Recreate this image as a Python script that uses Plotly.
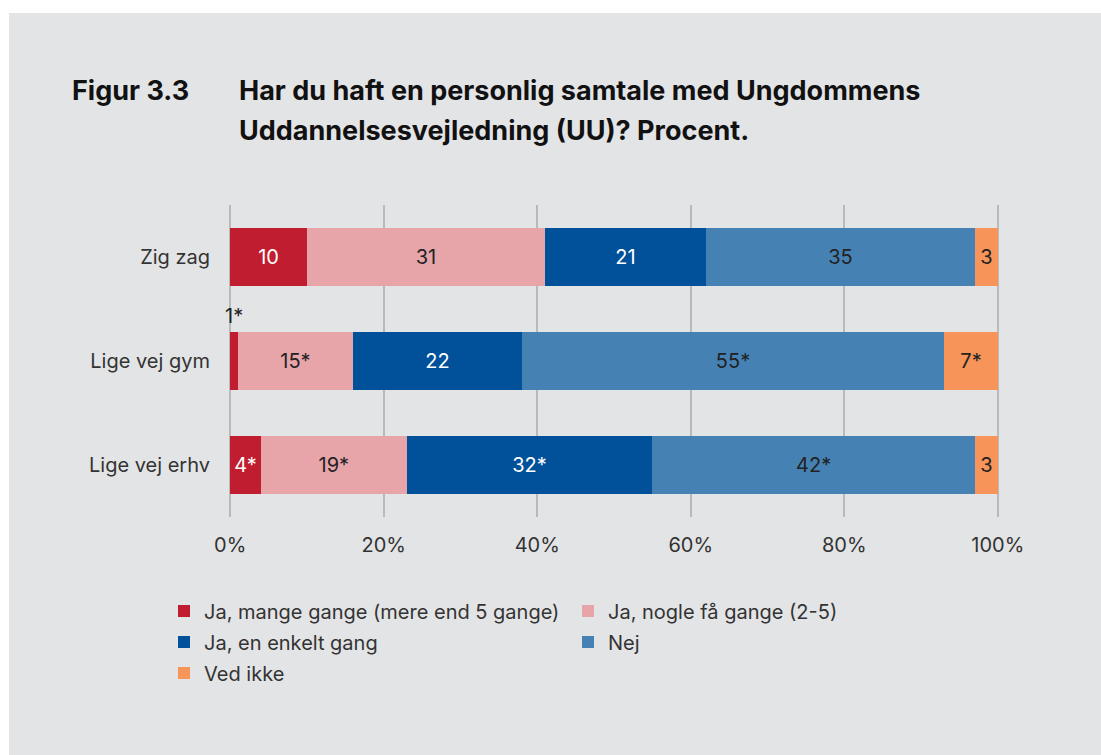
import plotly.graph_objects as go

categories = ["Zig zag", "Lige vej gym", "Lige vej erhv"]
series_names = [
    "Ja, mange gange (mere end 5 gange)",
    "Ja, nogle få gange (2-5)",
    "Ja, en enkelt gang",
    "Nej",
    "Ved ikke",
]
mange = [10, 1, 4]
nogle = [31, 15, 19]
enkelt = [21, 22, 32]
nej = [35, 55, 42]
ved_ikke = [3, 7, 3]

mange_lbl = ["10", "1*", "4*"]
nogle_lbl = ["31", "15*", "19*"]
enkelt_lbl = ["21", "22", "32*"]
nej_lbl = ["35", "55*", "42*"]
ved_ikke_lbl = ["3", "7*", "3"]

x_ticks = [0, 20, 40, 60, 80, 100]
x_tick_labels = ["0%", "20%", "40%", "60%", "80%", "100%"]

title_fig = "Figur 3.3"
title_line1 = "Har du haft en personlig samtale med Ungdommens"
title_line2 = "Uddannelsesvejledning (UU)? Procent."

colors = ["#c01e30", "#e7a5aa", "#00509a", "#4681b4", "#f69459"]
text_colors = ["#ffffff", "#222222", "#ffffff", "#222222", "#222222"]
legends = ["legend", "legend", "legend2", "legend2", "legend3"]

BG = "#e3e4e6"
FONT = "Inter"
FS = 20

values = [mange, nogle, enkelt, nej, ved_ikke]
labels = [mange_lbl, nogle_lbl, enkelt_lbl, nej_lbl, ved_ikke_lbl]

# plot-area geometry in pixels (page body margin removed via post_script)
W, H = 1101, 755
PW, PH = 770, 312
ML = 229
MT = 205
MR = W - ML - PW
MB = H - MT - PH


def px_x(px):
    return (px - ML) / PW


def px_y(py):
    return (MT + PH - py) / PH


fig = go.Figure()
for i, name in enumerate(series_names):
    tp = ["inside"] * len(categories)
    if i == 0:
        tp = ["inside", "none", "inside"]
    fig.add_trace(go.Bar(
        name=name,
        y=categories,
        x=values[i],
        orientation="h",
        marker=dict(color=colors[i], line=dict(width=0)),
        text=labels[i],
        textposition=tp,
        insidetextanchor="middle",
        textangle=0,
        textfont=dict(family=FONT, size=FS, color=text_colors[i]),
        constraintext="none",
        legend=legends[i],
        hoverinfo="name+x",
    ))

# small "1*" label placed above the thin first segment of "Lige vej gym"
fig.add_annotation(
    x=mange[1] / 2, y=categories[1], xref="x", yref="y",
    text=mange_lbl[1], showarrow=False, yshift=45,
    font=dict(family=FONT, size=FS, color="#222222"),
)

# title
TFS = 27
fig.add_annotation(x=px_x(70), y=px_y(90), xref="paper", yref="paper",
                   xanchor="left", yanchor="middle", showarrow=False,
                   text="<b>" + title_fig + "</b>",
                   font=dict(family=FONT, size=TFS, color="#111111"))
fig.add_annotation(x=px_x(237), y=px_y(90), xref="paper", yref="paper",
                   xanchor="left", yanchor="middle", showarrow=False,
                   text="<b>" + title_line1 + "</b>",
                   font=dict(family=FONT, size=TFS, color="#111111"))
fig.add_annotation(x=px_x(237), y=px_y(130), xref="paper", yref="paper",
                   xanchor="left", yanchor="middle", showarrow=False,
                   text="<b>" + title_line2 + "</b>",
                   font=dict(family=FONT, size=TFS, color="#111111"))

# white frame strips (top and left)
fig.add_shape(type="rect", xref="paper", yref="paper",
              x0=px_x(-20), x1=px_x(W + 20), y0=px_y(13), y1=px_y(-20),
              fillcolor="#ffffff", line=dict(width=0), layer="above")
fig.add_shape(type="rect", xref="paper", yref="paper",
              x0=px_x(-20), x1=px_x(9), y0=px_y(H + 20), y1=px_y(-20),
              fillcolor="#ffffff", line=dict(width=0), layer="above")

leg_common = dict(orientation="h", xanchor="left", yanchor="middle",
                  entrywidth=359, entrywidthmode="pixels",
                  bgcolor="rgba(0,0,0,0)", borderwidth=0,
                  font=dict(family=FONT, size=FS, color="#333333"),
                  traceorder="normal", itemclick=False, itemdoubleclick=False)

fig.update_layout(
    width=W, height=H,
    margin=dict(l=ML, r=MR, t=MT, b=MB, pad=0),
    paper_bgcolor=BG,
    plot_bgcolor=BG,
    barmode="stack",
    bargap=0.44,
    showlegend=True,
    font=dict(family=FONT, size=FS, color="#333333"),
    legend=dict(x=px_x(164), y=px_y(611), **leg_common),
    legend2=dict(x=px_x(164), y=px_y(642), **leg_common),
    legend3=dict(x=px_x(164), y=px_y(673), **leg_common),
    xaxis=dict(
        range=[-0.15, 100.15], tickvals=x_ticks, ticktext=x_tick_labels,
        showgrid=True, gridcolor="#b9b9b9", gridwidth=2,
        zeroline=False, showline=False, ticks="",
        ticklabelstandoff=14,
        tickfont=dict(family=FONT, size=FS, color="#333333"),
        fixedrange=True,
    ),
    yaxis=dict(
        categoryorder="array", categoryarray=categories,
        autorange="reversed",
        showgrid=False, zeroline=False, showline=False, ticks="",
        ticklabelstandoff=18,
        tickfont=dict(family=FONT, size=FS, color="#333333"),
        fixedrange=True,
    ),
    uniformtext=dict(mode=False),
)

post_js = (
    "document.body.style.margin='0';"
    "document.body.style.overflow='hidden';"
    "document.body.style.background='#ffffff';"
)

fig.write_html("out.html", post_script=post_js,
               config={"displayModeBar": False, "staticPlot": False})
